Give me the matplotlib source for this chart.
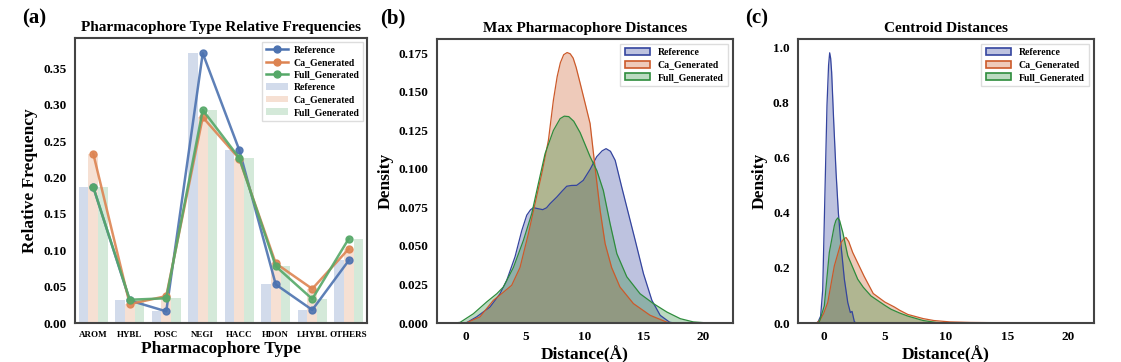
import numpy as np
import matplotlib
matplotlib.use("Agg")
import matplotlib.pyplot as plt
from matplotlib.patches import Patch
from matplotlib.lines import Line2D
from matplotlib.colors import to_rgba

plt.rcParams['font.family'] = ['Liberation Serif', 'DejaVu Serif']
plt.rcParams['font.weight'] = 'bold'

# ---- panel (a): relative frequencies ----
types = ['AROM', 'HYBL', 'POSC', 'NEGI', 'HACC', 'HDON', 'LHYBL', 'OTHERS']
freq_ref = [0.187, 0.031, 0.016, 0.371, 0.238, 0.053, 0.018, 0.086]
freq_ca = [0.233, 0.026, 0.037, 0.283, 0.226, 0.082, 0.047, 0.102]
freq_full = [0.187, 0.032, 0.034, 0.293, 0.227, 0.078, 0.033, 0.116]

# ---- panel (b): max pharmacophore distance densities ----
maxd_ref_x = [-0.5, 0.06, 0.9, 2.03, 2.87, 3.44, 4.14, 4.71, 5.13, 5.45, 5.69, 6.1, 6.48, 6.8,
              7.1, 7.67, 8.1, 8.51, 8.9, 9.35, 9.9, 10.5, 11.04, 11.5, 11.83, 12.2, 12.6, 13.16,
              13.72, 14.29, 14.99, 15.7, 16.4, 17.2, 17.6]
maxd_ref_d = [0.0, 0.0003, 0.004, 0.0104, 0.019, 0.0277, 0.043, 0.060, 0.070, 0.0735, 0.0749,
              0.0742, 0.0736, 0.0748, 0.0775, 0.0818, 0.0855, 0.0888, 0.0893, 0.0894, 0.0926,
              0.100, 0.108, 0.1118, 0.1132, 0.1115, 0.1056, 0.088, 0.071, 0.0537, 0.032, 0.0147,
              0.005, 0.0005, 0.0]
maxd_ca_x = [-0.3, 0.06, 1.18, 2.31, 3.16, 3.86, 4.56, 5.27, 5.83, 6.4, 6.96, 7.38, 7.7, 7.97,
             8.25, 8.54, 8.8, 9.05, 9.3, 9.63, 10.05, 10.48, 10.9, 11.33, 11.75, 12.3, 13.0,
             14.14, 15.55, 16.97, 17.5]
maxd_ca_d = [0.0, 0.0002, 0.004, 0.0147, 0.020, 0.0245, 0.036, 0.058, 0.0775, 0.097, 0.1186,
             0.1446, 0.160, 0.169, 0.1742, 0.1756, 0.1748, 0.172, 0.166, 0.156, 0.143, 0.1295,
             0.101, 0.073, 0.0515, 0.036, 0.0234, 0.0126, 0.005, 0.0005, 0.0]
maxd_full_x = [-1.0, -0.5, 0.62, 1.75, 2.6, 3.16, 4.0, 4.85, 5.55, 6.11, 6.68, 7.38, 7.95,
               8.3, 8.68, 9.1, 9.64, 10.05, 10.48, 11.05, 11.6, 12.17, 12.74, 13.58, 14.7, 15.83,
               16.97, 18.1, 19.2, 20.5]
maxd_full_d = [0.0, 0.0004, 0.006, 0.0137, 0.019, 0.0234, 0.036, 0.0537, 0.071, 0.0905, 0.110,
               0.125, 0.1327, 0.1343, 0.134, 0.131, 0.1236, 0.116, 0.108, 0.099, 0.086, 0.0645,
               0.045, 0.030, 0.019, 0.0126, 0.0071, 0.0028, 0.0007, 0.0]

# ---- panel (c): centroid distance densities ----
cent_ref_x = [-0.5, -0.25, -0.08, 0.11, 0.27, 0.4, 0.49, 0.57, 0.65, 0.82, 1.01, 1.2, 1.42,
              1.69, 1.97, 2.18, 2.32, 2.51, 2.7]
cent_ref_d = [0.0, 0.025, 0.12, 0.486, 0.79, 0.935, 0.98, 0.96, 0.91, 0.73, 0.547, 0.40, 0.28,
              0.159, 0.074, 0.038, 0.042, 0.004, 0.0]
cent_ca_x = [-0.6, -0.3, 0.0, 0.33, 0.87, 1.42, 1.65, 1.83, 2.05, 2.37, 3.3, 4.05, 5.0, 5.78,
             6.22, 6.88, 8.13, 9.0, 10.3, 12.0, 14.0, 16.0, 18.0, 20.0, 21.0]
cent_ca_d = [0.0, 0.01, 0.035, 0.074, 0.207, 0.292, 0.305, 0.31, 0.295, 0.256, 0.17, 0.107,
             0.076, 0.058, 0.046, 0.031, 0.016, 0.009, 0.004, 0.002, 0.0012, 0.0008, 0.0003,
             0.0001, 0.0]
cent_full_x = [-0.5, -0.35, 0.05, 0.46, 0.87, 1.0, 1.15, 1.3, 1.56, 1.97, 2.78, 3.23, 3.87,
               5.0, 5.5, 6.22, 6.88, 8.13, 9.2, 10.0, 12.0]
cent_full_d = [0.0, 0.005, 0.062, 0.256, 0.353, 0.372, 0.381, 0.372, 0.329, 0.244, 0.159,
               0.13, 0.098, 0.064, 0.05, 0.036, 0.025, 0.009, 0.002, 0.0005, 0.0]

series = ['Reference', 'Ca_Generated', 'Full_Generated']
deep = ['#4C72B0', '#DD8452', '#55A868']
kde_cols = ['#34449e', '#cc5a2a', '#2e8c3c']
fill_alpha = 0.32


def style_axes(ax):
    for s in ax.spines.values():
        s.set_color('#444444')
        s.set_linewidth(1.5)
    ax.tick_params(length=0, pad=6)


def kde_panel(ax, xs, ds, title, ymax, xlim, yticks, yfmt):
    for x, d, c in zip(xs, ds, kde_cols):
        ax.fill_between(x, d, color=c, alpha=fill_alpha, lw=0)
        ax.plot(x, d, color=c, lw=0.9)
    ax.set_xlim(*xlim)
    ax.set_ylim(0, ymax)
    ax.set_xticks([0, 5, 10, 15, 20])
    ax.set_yticks(yticks)
    ax.set_yticklabels([yfmt % v for v in yticks], fontsize=9.5)
    ax.set_xticklabels(['0', '5', '10', '15', '20'], fontsize=9.5)
    ax.set_title(title, fontsize=11, fontweight='bold', pad=5)
    ax.set_xlabel('Distance(Å)', fontsize=12.5, fontweight='bold', labelpad=2)
    ax.set_ylabel('Density', fontsize=12.5, fontweight='bold', labelpad=4)
    handles = [Patch(facecolor=to_rgba(c, fill_alpha), edgecolor=c, lw=1.2) for c in kde_cols]
    ax.legend(handles, series, loc='upper right', fontsize=7, framealpha=1,
              edgecolor='#dddddd', fancybox=False, handlelength=2.6, handleheight=0.7,
              labelspacing=0.35, borderpad=0.45)
    style_axes(ax)


fig = plt.figure(figsize=(11.21, 3.62), dpi=100)
W, H = 1121, 362
ax1 = fig.add_axes([75 / W, 1 - 323 / H, 292 / W, 285 / H])
ax2 = fig.add_axes([437 / W, 1 - 323 / H, 296 / W, 284 / H])
ax3 = fig.add_axes([798 / W, 1 - 323 / H, 296 / W, 284 / H])

# panel (a)
pos = np.arange(len(types))
bw = 0.8 / 3
for i, (vals, c) in enumerate(zip([freq_ref, freq_ca, freq_full], deep)):
    ax1.bar(pos + (i - 1) * bw, vals, width=bw, color=c, alpha=0.25, lw=0)
for vals, c in zip([freq_ref, freq_ca, freq_full], deep):
    ax1.plot(pos, vals, color=c, lw=1.8, marker='o', ms=5, alpha=0.9)
ax1.set_xlim(-0.5, 7.5)
ax1.set_ylim(0, 0.392)
ax1.set_xticks(pos)
ax1.set_xticklabels(types, fontsize=6.5)
yt = [0, 0.05, 0.10, 0.15, 0.20, 0.25, 0.30, 0.35]
ax1.set_yticks(yt)
ax1.set_yticklabels(['%.2f' % v for v in yt], fontsize=9.5)
ax1.set_title('Pharmacophore Type Relative Frequencies', fontsize=11, fontweight='bold', pad=5)
ax1.set_xlabel('Pharmacophore Type', fontsize=12.5, fontweight='bold', labelpad=1)
ax1.set_ylabel('Relative Frequency', fontsize=12.5, fontweight='bold', labelpad=4)
lh = [Line2D([], [], color=c, lw=1.8, marker='o', ms=5) for c in deep]
bh = [Patch(facecolor=c, alpha=0.25) for c in deep]
ax1.legend(lh + bh, series + series, loc='upper right', fontsize=7, framealpha=1,
           edgecolor='#dddddd', fancybox=False, handlelength=2.2, handletextpad=0.6,
           labelspacing=0.35, borderpad=0.4, borderaxespad=0.4)
style_axes(ax1)

kde_panel(ax2, [maxd_ref_x, maxd_ca_x, maxd_full_x], [maxd_ref_d, maxd_ca_d, maxd_full_d],
          'Max Pharmacophore Distances', 0.1844, (-2.45, 22.55),
          [0, 0.025, 0.05, 0.075, 0.10, 0.125, 0.15, 0.175], '%.3f')
kde_panel(ax3, [cent_ref_x, cent_ca_x, cent_full_x], [cent_ref_d, cent_ca_d, cent_full_d],
          'Centroid Distances', 1.03, (-2.1, 22.1),
          [0, 0.2, 0.4, 0.6, 0.8, 1.0], '%.1f')

for lab, x in [('(a)', 22), ('(b)', 380), ('(c)', 745)]:
    fig.text(x / W, 1 - 18 / H, lab, fontsize=15, fontweight='bold', va='center')

fig.savefig('out.png', dpi=100)
